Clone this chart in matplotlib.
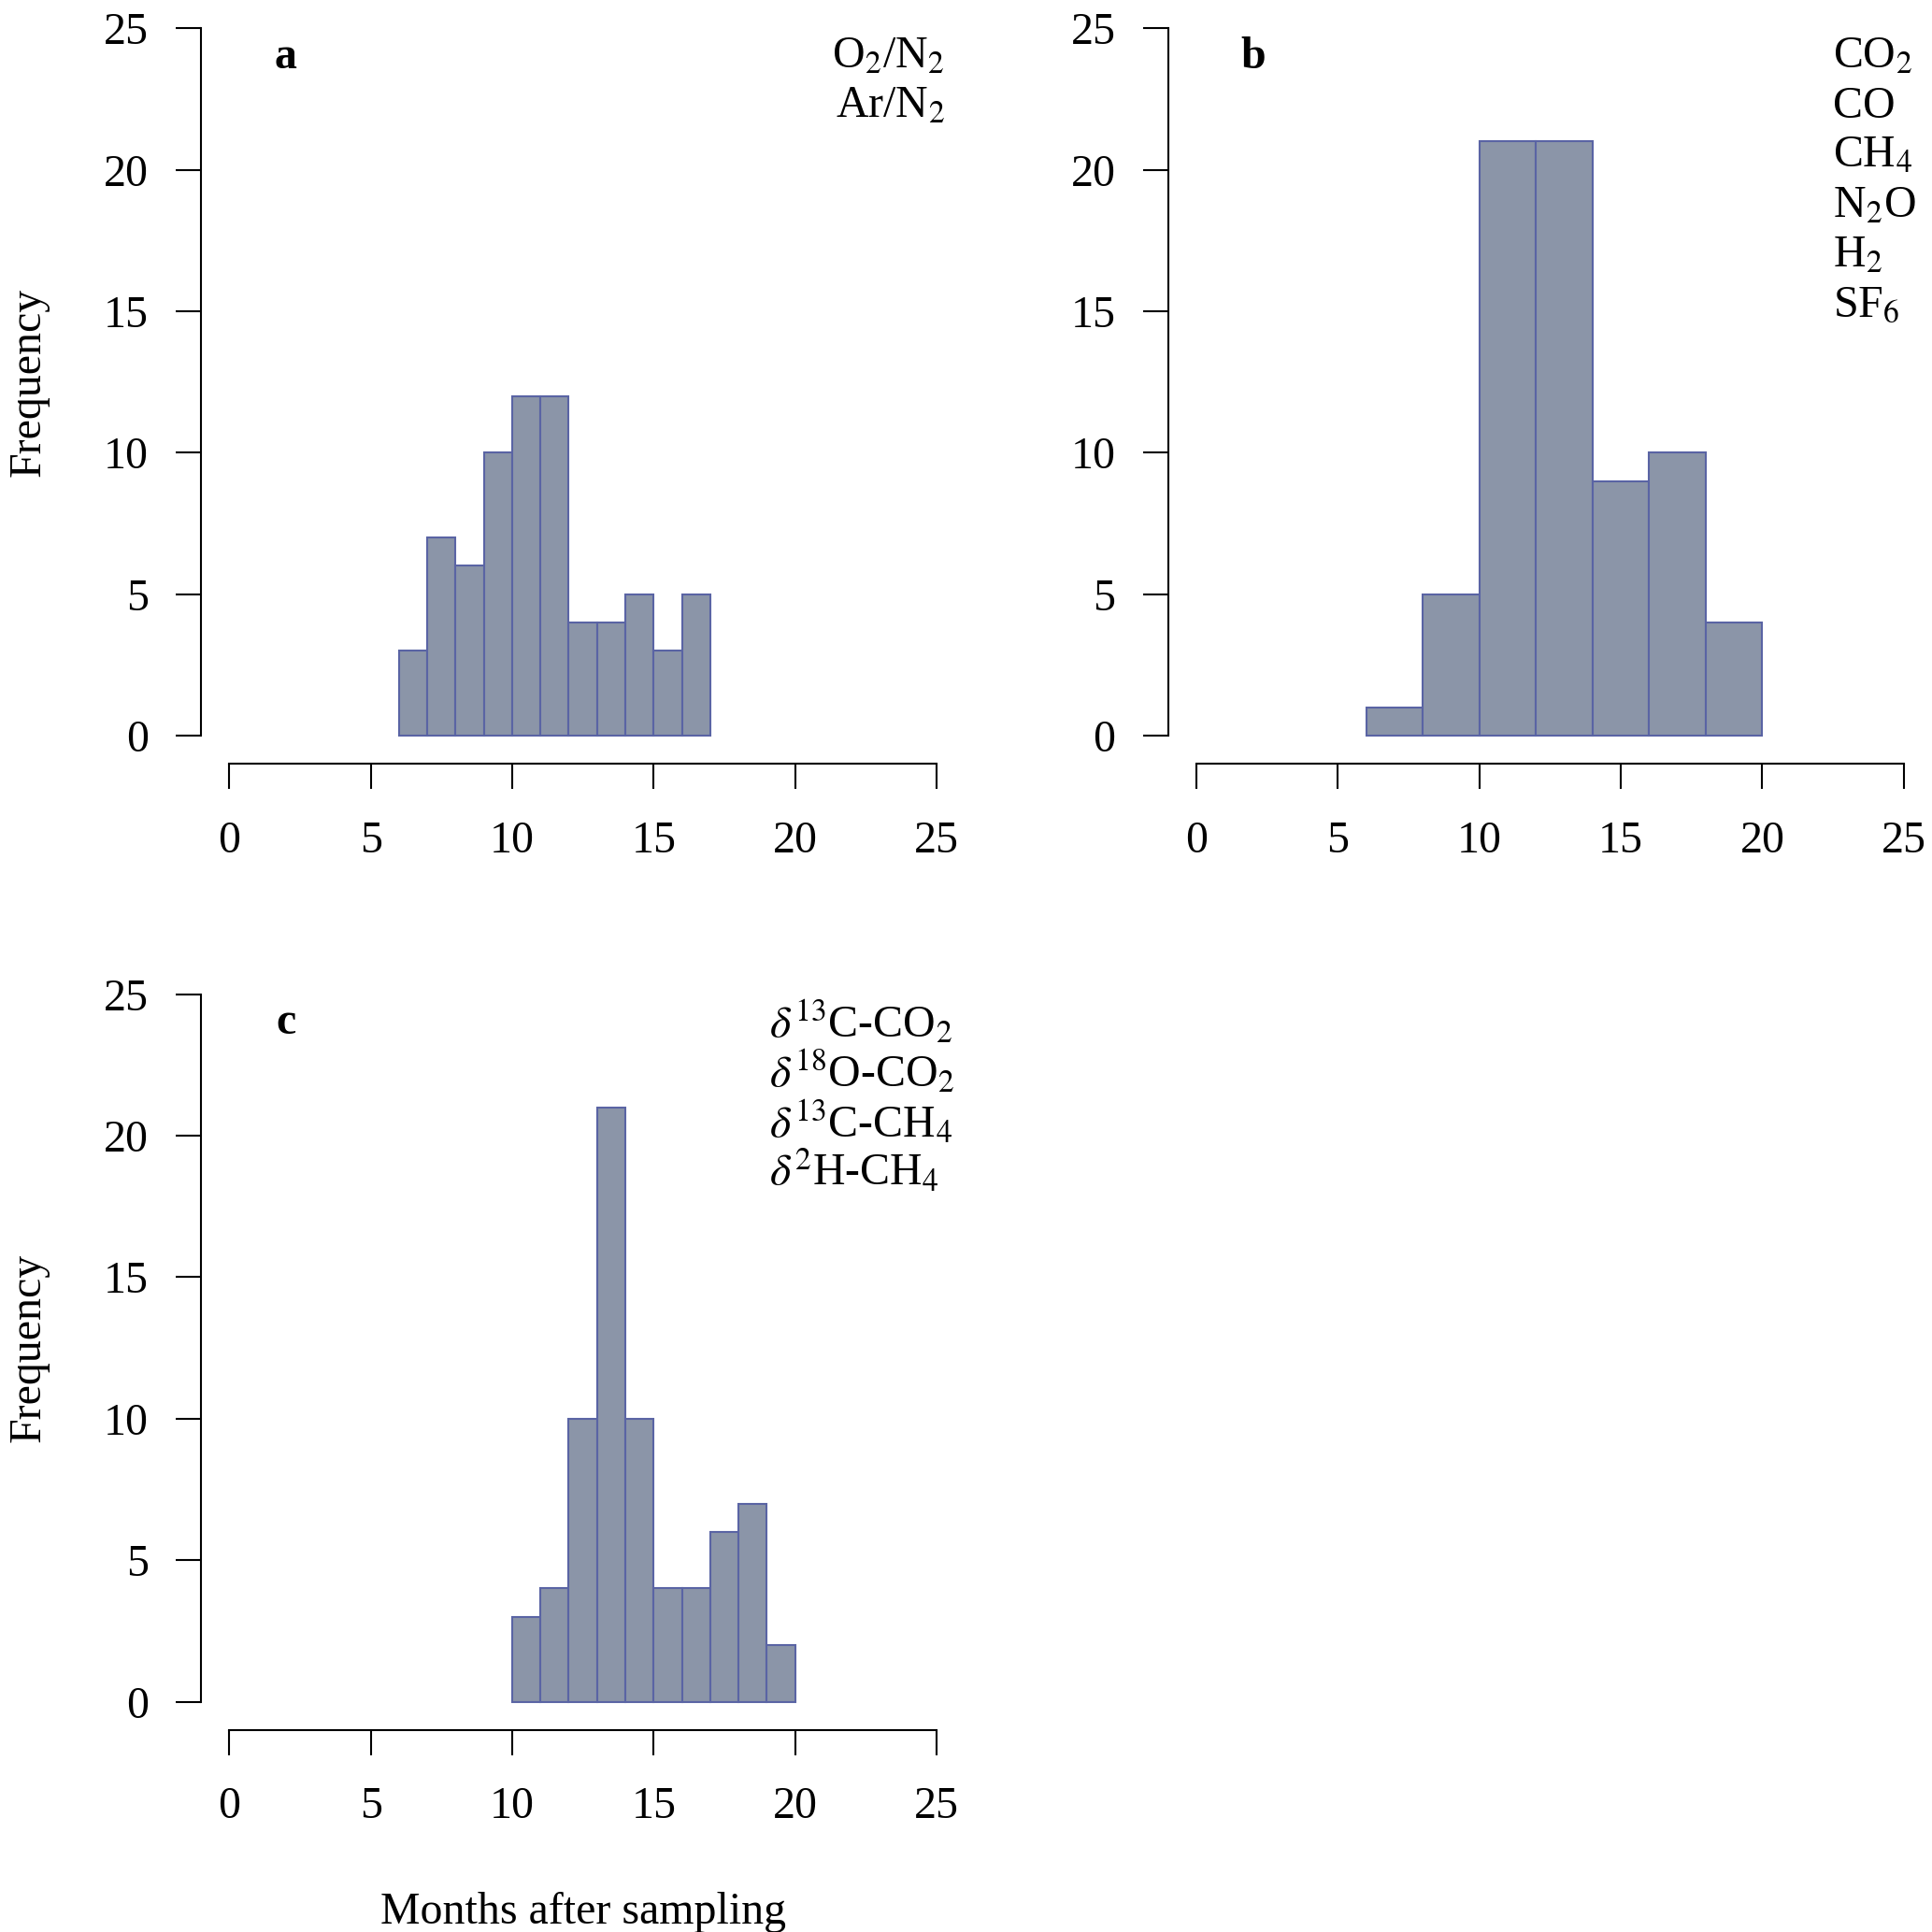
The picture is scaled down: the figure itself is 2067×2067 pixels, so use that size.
import matplotlib
matplotlib.use("Agg")
import matplotlib.pyplot as plt

plt.rcParams['font.family'] = ['Liberation Serif', 'DejaVu Serif']
plt.rcParams['mathtext.fontset'] = 'stix'

# histogram bin edges and counts (months after sampling)
edges_a = [6, 7, 8, 9, 10, 11, 12, 13, 14, 15, 16, 17]
counts_a = [3, 7, 6, 10, 12, 12, 4, 4, 5, 3, 5]

edges_b = [6, 8, 10, 12, 14, 16, 18, 20]
counts_b = [1, 5, 21, 21, 9, 10, 4]

edges_c = [10, 11, 12, 13, 14, 15, 16, 17, 18, 19, 20]
counts_c = [3, 4, 10, 21, 10, 4, 4, 6, 7, 2]

labels_a = [r'O$_2$/N$_2$', r'Ar/N$_2$']
labels_b = [r'CO$_2$', 'CO', r'CH$_4$', r'N$_2$O', r'H$_2$', r'SF$_6$']
labels_c = [r'$\delta^{13}$C-CO$_2$', r'$\delta^{18}$O-CO$_2$',
            r'$\delta^{13}$C-CH$_4$', r'$\delta^{2}$H-CH$_4$']

ticks = [0, 5, 10, 15, 20, 25]
fill_col = '#8b95a8'
edge_col = '#5a64a4'
fs = 11.5

fig = plt.figure(figsize=(6.89, 6.89), dpi=300)


def panel(rect, edges, counts, letter, labels, lab_x, lab_ha, ylab=False, xlab=False):
    ax = fig.add_axes(rect)
    widths = [edges[i + 1] - edges[i] for i in range(len(counts))]
    ax.bar(edges[:-1], counts, width=widths, align='edge', color=fill_col,
           edgecolor=edge_col, linewidth=0.5)
    ax.set_xlim(-1, 26)
    ax.set_ylim(-1, 26)
    for s in ['top', 'right']:
        ax.spines[s].set_visible(False)
    ax.spines['left'].set_bounds(0, 25)
    ax.spines['bottom'].set_bounds(0, 25)
    for s in ['left', 'bottom']:
        ax.spines[s].set_linewidth(0.5)
    ax.set_xticks(ticks)
    ax.set_yticks(ticks)
    ax.tick_params(length=6.5, width=0.5, labelsize=fs)
    ax.tick_params(axis='y', pad=7)
    ax.tick_params(axis='x', pad=8)
    ax.text(2.0, 24.0, letter, fontsize=fs, fontweight='bold', ha='center', va='center')
    for i, lab in enumerate(labels):
        ax.text(lab_x, 24.0 - i * 1.76, lab, fontsize=fs, ha=lab_ha, va='center')
    if ylab:
        ax.set_ylabel('Frequency', fontsize=fs, labelpad=14)
    if xlab:
        ax.set_xlabel('Months after sampling', fontsize=fs, labelpad=16.5)
    return ax


panel([0.104, 0.6046, 0.3954, 0.3954], edges_a, counts_a, 'a', labels_a, 25.3, 'right', ylab=True)
panel([0.6046, 0.6046, 0.3954, 0.3954], edges_b, counts_b, 'b', labels_b, 22.5, 'left')
panel([0.104, 0.1046, 0.3954, 0.3954], edges_c, counts_c, 'c', labels_c, 19.1, 'left',
      ylab=True, xlab=True)

fig.savefig('out.png', dpi=300)
